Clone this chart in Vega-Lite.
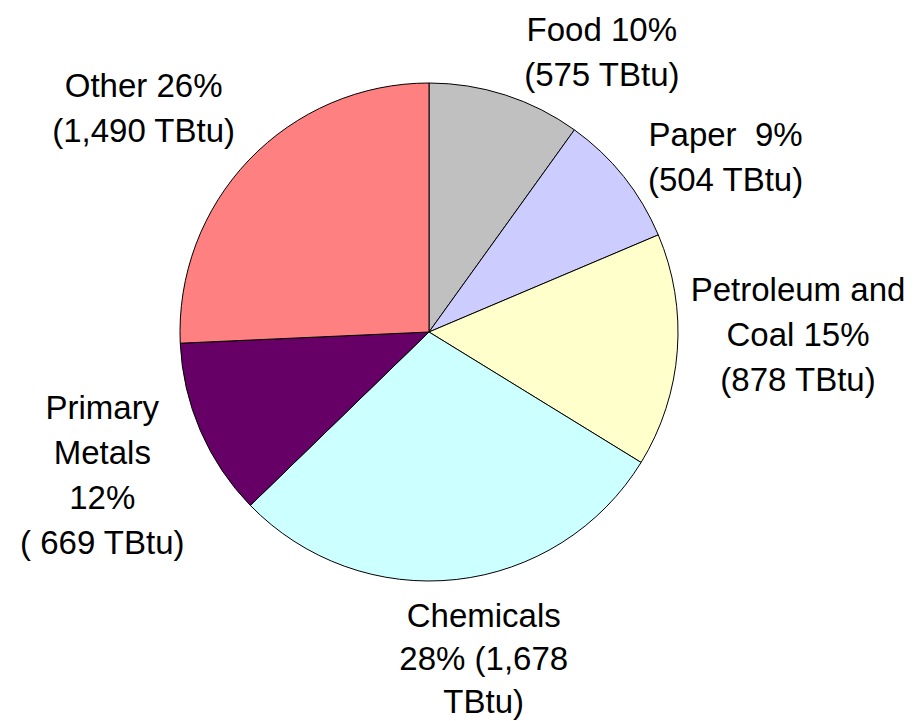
{
  "$schema": "https://vega.github.io/schema/vega-lite/v6.json",
  "width": 858,
  "height": 664,
  "padding": {"left": 0, "top": 0, "right": 57, "bottom": 57},
  "autosize": {"type": "none"},
  "background": "white",
  "view": {"stroke": null},
  "config": {"text": {"font": "Liberation Sans", "fontSize": 33, "lineHeight": 45, "lineBreak": "\n", "color": "black", "align": "center", "baseline": "middle"}},
  "data": {
    "values": [
      {"sector": "Food", "value": 575, "idx": 1, "label": "Food 10%\n(575 TBtu)"},
      {"sector": "Paper", "value": 504, "idx": 2, "label": "Paper \u00a09%\n(504 TBtu)"},
      {"sector": "Petroleum and Coal", "value": 878, "idx": 3, "label": "Petroleum and\nCoal 15%\n(878 TBtu)"},
      {"sector": "Chemicals", "value": 1678, "idx": 4, "label": "Chemicals\n28% (1,678\nTBtu)"},
      {"sector": "Primary Metals", "value": 669, "idx": 5, "label": "Primary\nMetals\n12%\n( 669 TBtu)"},
      {"sector": "Other", "value": 1490, "idx": 6, "label": "Other 26%\n(1,490 TBtu)"}
    ]
  },
  "encoding": {
    "theta": {"field": "value", "type": "quantitative", "stack": true},
    "order": {"field": "idx", "type": "quantitative"}
  },
  "layer": [
    {
      "mark": {"type": "arc", "outerRadius": 249, "stroke": "black", "strokeWidth": 1},
      "encoding": {
        "color": {
          "field": "sector",
          "type": "nominal",
          "scale": {
            "domain": ["Food", "Paper", "Petroleum and Coal", "Chemicals", "Primary Metals", "Other"],
            "range": ["#C0C0C0", "#CCCCFF", "#FFFFCC", "#CCFFFF", "#660066", "#FF8080"]
          },
          "legend": null
        }
      }
    },
    {
      "mark": {"type": "text", "radius": 345, "dx": 67, "dy": 27},
      "encoding": {"detail": {"field": "sector"}, "text": {"condition": {"test": "datum.sector === 'Food'", "field": "label"}, "value": ""}}
    },
    {
      "mark": {"type": "text", "radius": 345, "dx": 27, "dy": 19},
      "encoding": {"detail": {"field": "sector"}, "text": {"condition": {"test": "datum.sector === 'Paper'", "field": "label"}, "value": ""}}
    },
    {
      "mark": {"type": "text", "radius": 345, "dx": 25, "dy": -67},
      "encoding": {"detail": {"field": "sector"}, "text": {"condition": {"test": "datum.sector === 'Petroleum and Coal'", "field": "label"}, "value": ""}}
    },
    {
      "mark": {"type": "text", "radius": 345, "dx": 17, "dy": -58, "lineHeight": 43},
      "encoding": {"detail": {"field": "sector"}, "text": {"condition": {"test": "datum.sector === 'Chemicals'", "field": "label"}, "value": ""}}
    },
    {
      "mark": {"type": "text", "radius": 345, "dx": -10, "dy": -60},
      "encoding": {"detail": {"field": "sector"}, "text": {"condition": {"test": "datum.sector === 'Primary Metals'", "field": "label"}, "value": ""}}
    },
    {
      "mark": {"type": "text", "radius": 345, "dx": -36, "dy": -7},
      "encoding": {"detail": {"field": "sector"}, "text": {"condition": {"test": "datum.sector === 'Other'", "field": "label"}, "value": ""}}
    }
  ]
}
